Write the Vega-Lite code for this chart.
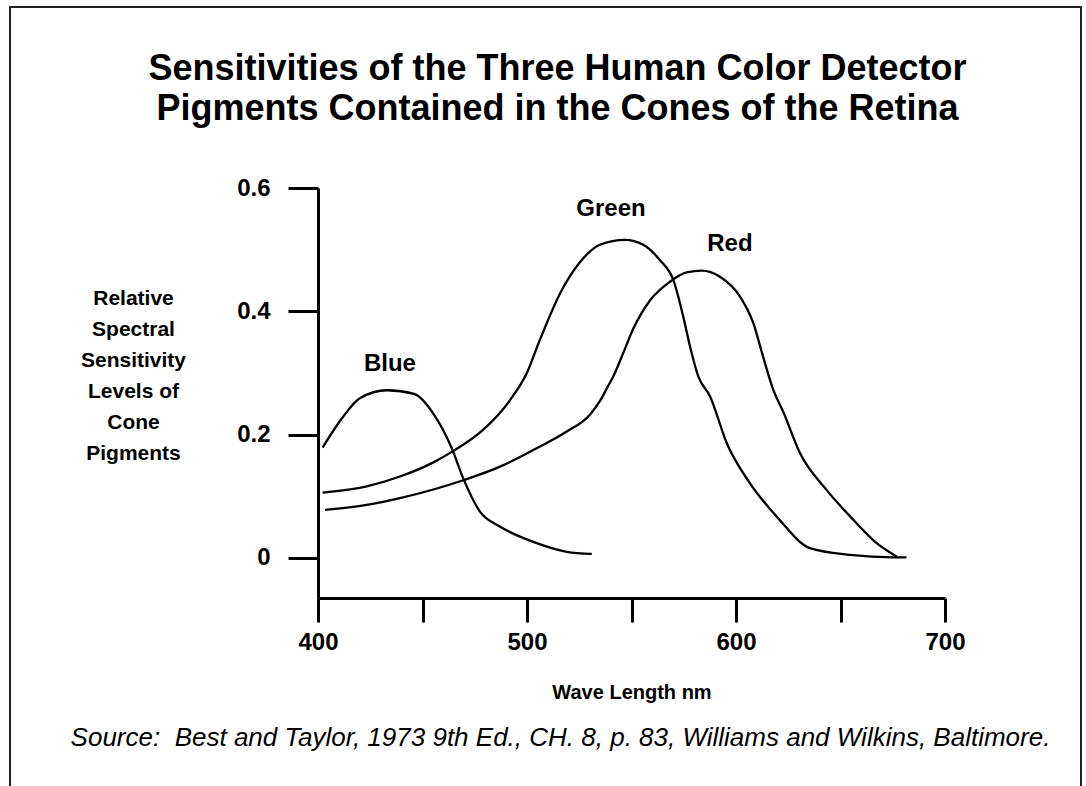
{
  "$schema": "https://vega.github.io/schema/vega-lite/v6.json",
  "width": 1071,
  "height": 782,
  "autosize": {"type": "none"},
  "padding": {"left": 10, "top": 7, "right": 5, "bottom": -3},
  "background": "white",
  "config": {
    "view": {"stroke": "#222222", "strokeWidth": 2},
    "font": "Liberation Sans"
  },
  "title": {
    "text": ["Sensitivities of the Three Human Color Detector", "Pigments Contained in the Cones of the Retina"],
    "anchor": "middle",
    "frame": "group",
    "orient": "top",
    "font": "Liberation Sans",
    "fontSize": 36,
    "fontWeight": "bold",
    "color": "black",
    "lineHeight": 40,
    "baseline": "top",
    "offset": -46,
    "dx": 12,
    "dy": 75
  },
  "datasets": {
    "curves": [
      {"cone": "Blue", "nm": 402.2, "v": 0.179},
      {"cone": "Blue", "nm": 412, "v": 0.229},
      {"cone": "Blue", "nm": 420, "v": 0.259},
      {"cone": "Blue", "nm": 433, "v": 0.272},
      {"cone": "Blue", "nm": 446, "v": 0.266},
      {"cone": "Blue", "nm": 455, "v": 0.235},
      {"cone": "Blue", "nm": 464, "v": 0.178},
      {"cone": "Blue", "nm": 469.5, "v": 0.129},
      {"cone": "Blue", "nm": 477.5, "v": 0.075},
      {"cone": "Blue", "nm": 487, "v": 0.051},
      {"cone": "Blue", "nm": 503, "v": 0.026},
      {"cone": "Blue", "nm": 519, "v": 0.010},
      {"cone": "Blue", "nm": 531, "v": 0.0065},
      {"cone": "Green", "nm": 402.2, "v": 0.106},
      {"cone": "Green", "nm": 423.3, "v": 0.116},
      {"cone": "Green", "nm": 439.2, "v": 0.132},
      {"cone": "Green", "nm": 455.2, "v": 0.155},
      {"cone": "Green", "nm": 464, "v": 0.172},
      {"cone": "Green", "nm": 479.1, "v": 0.208},
      {"cone": "Green", "nm": 491.9, "v": 0.256},
      {"cone": "Green", "nm": 499.8, "v": 0.299},
      {"cone": "Green", "nm": 506.2, "v": 0.354},
      {"cone": "Green", "nm": 515.8, "v": 0.429},
      {"cone": "Green", "nm": 525.4, "v": 0.480},
      {"cone": "Green", "nm": 534.9, "v": 0.508},
      {"cone": "Green", "nm": 546.9, "v": 0.516},
      {"cone": "Green", "nm": 555.6, "v": 0.508},
      {"cone": "Green", "nm": 563.6, "v": 0.483},
      {"cone": "Green", "nm": 570, "v": 0.451},
      {"cone": "Green", "nm": 574.8, "v": 0.391},
      {"cone": "Green", "nm": 578, "v": 0.343},
      {"cone": "Green", "nm": 582, "v": 0.294},
      {"cone": "Green", "nm": 587.6, "v": 0.262},
      {"cone": "Green", "nm": 595.6, "v": 0.186},
      {"cone": "Green", "nm": 606.7, "v": 0.121},
      {"cone": "Green", "nm": 619.5, "v": 0.067},
      {"cone": "Green", "nm": 635.4, "v": 0.016},
      {"cone": "Green", "nm": 654.5, "v": 0.005},
      {"cone": "Green", "nm": 675.3, "v": 0.001},
      {"cone": "Green", "nm": 681.6, "v": 0.001},
      {"cone": "Red", "nm": 403.3, "v": 0.078},
      {"cone": "Red", "nm": 423.3, "v": 0.086},
      {"cone": "Red", "nm": 439.2, "v": 0.097},
      {"cone": "Red", "nm": 455.2, "v": 0.111},
      {"cone": "Red", "nm": 469.5, "v": 0.126},
      {"cone": "Red", "nm": 487.1, "v": 0.148},
      {"cone": "Red", "nm": 503, "v": 0.175},
      {"cone": "Red", "nm": 519, "v": 0.205},
      {"cone": "Red", "nm": 530, "v": 0.232},
      {"cone": "Red", "nm": 535, "v": 0.255},
      {"cone": "Red", "nm": 538.5, "v": 0.277},
      {"cone": "Red", "nm": 541.5, "v": 0.296},
      {"cone": "Red", "nm": 546, "v": 0.332},
      {"cone": "Red", "nm": 550.9, "v": 0.372},
      {"cone": "Red", "nm": 558.9, "v": 0.418},
      {"cone": "Red", "nm": 568.4, "v": 0.448},
      {"cone": "Red", "nm": 576.4, "v": 0.463},
      {"cone": "Red", "nm": 583.6, "v": 0.466},
      {"cone": "Red", "nm": 592.3, "v": 0.456},
      {"cone": "Red", "nm": 601.9, "v": 0.424},
      {"cone": "Red", "nm": 608.3, "v": 0.381},
      {"cone": "Red", "nm": 613, "v": 0.326},
      {"cone": "Red", "nm": 617.9, "v": 0.272},
      {"cone": "Red", "nm": 622.6, "v": 0.237},
      {"cone": "Red", "nm": 630.6, "v": 0.170},
      {"cone": "Red", "nm": 643.4, "v": 0.110},
      {"cone": "Red", "nm": 656.1, "v": 0.062},
      {"cone": "Red", "nm": 667.3, "v": 0.024},
      {"cone": "Red", "nm": 677, "v": 0.002}
    ],
    "labels": [
      {"label": "Blue", "nm": 434.4, "v": 0.315},
      {"label": "Green", "nm": 540.2, "v": 0.566},
      {"label": "Red", "nm": 597.1, "v": 0.509}
    ]
  },
  "resolve": {"axis": {"x": "independent"}},
  "layer": [
    {
      "data": {"name": "curves"},
      "mark": {"type": "line", "interpolate": "monotone", "color": "black", "strokeWidth": 2.3},
      "encoding": {
        "x": {
          "field": "nm", "type": "quantitative",
          "scale": {"domain": [400, 700], "range": [308, 935], "nice": false, "zero": false},
          "axis": {
            "orient": "bottom", "offset": -191,
            "values": [400, 450, 500, 550, 600, 650, 700],
            "labelExpr": "datum.value % 100 == 0 ? datum.label : ''",
            "format": "d",
            "grid": false,
            "domainColor": "black", "domainWidth": 3,
            "tickColor": "black", "tickWidth": 3, "tickSize": 24,
            "labelFont": "Liberation Sans", "labelFontWeight": "bold", "labelFontSize": 24, "labelColor": "black",
            "labelPadding": 8, "labelFlush": false, "labelOverlap": false,
            "title": "Wave Length nm",
            "titleFont": "Liberation Sans", "titleFontWeight": "bold", "titleFontSize": 20, "titleColor": "black",
            "titleX": 621.5, "titleY": 94, "titleAlign": "center", "titleBaseline": "middle", "titleAnchor": null
          }
        },
        "y": {
          "field": "v", "type": "quantitative",
          "scale": {"domain": [-0.065, 0.6], "range": [591, 181], "nice": false, "zero": false},
          "axis": {
            "orient": "left", "offset": -308,
            "values": [0, 0.2, 0.4, 0.6],
            "labelExpr": "datum.value == 0 ? '0' : format(datum.value, '.1f')",
            "grid": false,
            "domainColor": "black", "domainWidth": 3,
            "tickColor": "black", "tickWidth": 3, "tickSize": 30,
            "labelFont": "Liberation Sans", "labelFontWeight": "bold", "labelFontSize": 24, "labelColor": "black",
            "labelPadding": 18, "labelFlush": false, "labelOverlap": false,
            "title": ["Relative", "Spectral", "Sensitivity", "Levels of", "Cone", "Pigments"],
            "titleFont": "Liberation Sans", "titleFontWeight": "bold", "titleFontSize": 21, "titleColor": "black",
            "titleAngle": 0, "titleX": -185, "titleY": 291, "titleAlign": "center", "titleBaseline": "middle",
            "titleLineHeight": 31
          }
        },
        "detail": {"field": "cone", "type": "nominal"}
      }
    },
    {
      "data": {"name": "labels"},
      "mark": {"type": "text", "font": "Liberation Sans", "fontWeight": "bold", "fontSize": 24, "color": "black", "align": "center", "baseline": "middle"},
      "encoding": {
        "x": {
          "field": "nm", "type": "quantitative",
          "axis": {
            "orient": "top", "offset": 0,
            "domain": false, "ticks": false, "labels": false, "grid": false,
            "title": "Source:\u00a0 Best and Taylor, 1973 9th Ed., CH. 8, p. 83, Williams and Wilkins, Baltimore.",
            "titleFont": "Liberation Sans", "titleFontStyle": "italic", "titleFontWeight": "normal", "titleFontSize": 26, "titleColor": "black",
            "titleX": 550, "titleY": 730, "titleAlign": "center", "titleBaseline": "middle"
          }
        },
        "y": {"field": "v", "type": "quantitative"},
        "text": {"field": "label", "type": "nominal"}
      }
    }
  ]
}
